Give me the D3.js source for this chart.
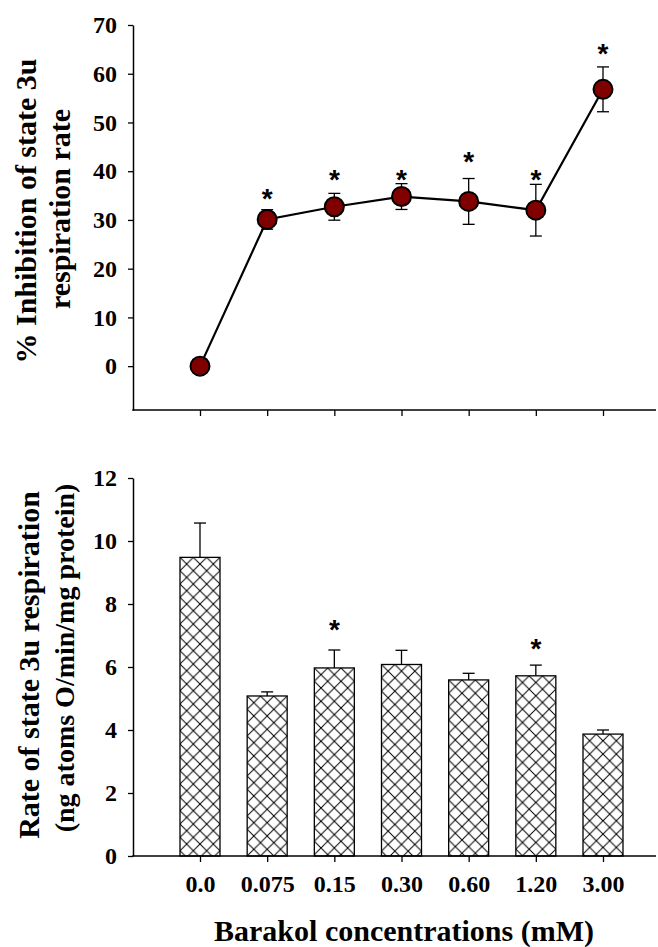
<!DOCTYPE html>
<html>
<head>
<meta charset="utf-8">
<script src="https://cdn.jsdelivr.net/npm/d3@7/dist/d3.min.js"></script>
<style>
  html, body { margin: 0; padding: 0; background: #ffffff; }
  svg { display: block; }
  .serif { font-family: "Liberation Serif", "Times New Roman", serif; font-weight: bold; fill: #000; }
</style>
</head>
<body>
<script>
// Barakol concentrations (mM)
const categories = ["0.0", "0.075", "0.15", "0.30", "0.60", "1.20", "3.00"];

// % inhibition of state 3u respiration rate (mean, SEM)
const inhibition    = [0, 30.1, 32.7, 34.8, 33.8, 32.0, 56.8];
const inhibitionErr = [0, 2.0, 2.75, 2.65, 4.7, 5.3, 4.6];
// significance marks (value level where the * is centred)
const inhibitionStar = [null, 35.7, 39.6, 39.6, 43.3, 39.6, 65.5];

// rate of state 3u respiration (ng atoms O/min/mg protein)
const rate    = [9.48, 5.08, 5.97, 6.08, 5.59, 5.72, 3.87];
const rateErr = [1.09, 0.13, 0.57, 0.45, 0.21, 0.34, 0.13];
const rateStar = [null, null, 7.4, null, null, 6.8, null];

const inhibitionTicks = [0, 10, 20, 30, 40, 50, 60, 70];
const rateTicks = [0, 2, 4, 6, 8, 10, 12];

const W = 658, H = 947;
const svg = d3.select("body").append("svg").attr("width", W).attr("height", H);

const axisLeftX = 133, axisRightX = 656;
const x = d3.scalePoint().domain(categories).range([200, 603]);
const yTop = d3.scaleLinear().domain([-9, 70]).range([410, 25]);
const yBot = d3.scaleLinear().domain([0, 12]).range([856, 478]);

const tickFont = 24, titleFont = 30, starFont = 28;

function styleAxis(g) {
  g.selectAll("path.domain").attr("stroke", "#000").attr("stroke-width", 1.5);
  g.selectAll(".tick line").attr("stroke", "#000").attr("stroke-width", 1.3);
  g.selectAll(".tick text")
    .attr("class", "serif")
    .style("font-size", tickFont + "px")
    .attr("fill", "#000");
}

function star(g, cx, cy) {
  // centre the asterisk glyph on (cx, cy)
  g.append("text")
    .attr("x", cx)
    .attr("y", cy + 0.58 * starFont)
    .attr("text-anchor", "middle")
    .style("font-family", "'Liberation Sans', Arial, sans-serif")
    .style("font-weight", "bold")
    .style("font-size", starFont + "px")
    .text("*");
}

// rotated two-line axis title; each line: [text, centre y, baseline x, font size]
function yTitle(lines) {
  lines.forEach(([t, cy, bx, fs]) => {
    svg.append("text")
      .attr("class", "serif")
      .attr("transform", "rotate(-90)")
      .attr("x", -cy)
      .attr("y", bx)
      .attr("text-anchor", "middle")
      .style("font-size", fs + "px")
      .text(t);
  });
}

/* ---------- upper panel: line with markers ---------- */
const upper = svg.append("g");

upper.append("g")
  .attr("transform", `translate(${axisLeftX},0)`)
  .call(d3.axisLeft(yTop).tickValues(inhibitionTicks).tickSize(5).tickPadding(11).tickSizeOuter(0))
  .call(styleAxis);

upper.append("line")
  .attr("x1", axisLeftX - 0.75).attr("x2", axisRightX)
  .attr("y1", yTop(-9)).attr("y2", yTop(-9))
  .attr("stroke", "#000").attr("stroke-width", 1.5);

upper.append("g")
  .attr("transform", `translate(0,${yTop(-9)})`)
  .call(d3.axisBottom(x).tickSize(6).tickFormat(""))
  .call(g => g.select("path.domain").remove())
  .call(styleAxis);

const upperData = categories.map((c, i) => ({ c, v: inhibition[i], e: inhibitionErr[i], s: inhibitionStar[i] }));

// error bars
const capW = 6;
upperData.filter(d => d.e > 0).forEach(d => {
  const cx = x(d.c);
  const g = upper.append("g").attr("stroke", "#000").attr("stroke-width", 1.3);
  g.append("line").attr("x1", cx).attr("x2", cx).attr("y1", yTop(d.v + d.e)).attr("y2", yTop(d.v - d.e));
  g.append("line").attr("x1", cx - capW).attr("x2", cx + capW).attr("y1", yTop(d.v + d.e)).attr("y2", yTop(d.v + d.e));
  g.append("line").attr("x1", cx - capW).attr("x2", cx + capW).attr("y1", yTop(d.v - d.e)).attr("y2", yTop(d.v - d.e));
});

upper.append("path")
  .datum(upperData)
  .attr("fill", "none")
  .attr("stroke", "#000")
  .attr("stroke-width", 2.2)
  .attr("d", d3.line().x(d => x(d.c)).y(d => yTop(d.v)));

upper.selectAll("circle.pt")
  .data(upperData)
  .join("circle")
  .attr("class", "pt")
  .attr("cx", d => x(d.c))
  .attr("cy", d => yTop(d.v))
  .attr("r", 9.5)
  .attr("fill", "#800000")
  .attr("stroke", "#000")
  .attr("stroke-width", 2);

upperData.filter(d => d.s !== null).forEach(d => star(upper, x(d.c), yTop(d.s)));

yTitle([
  ["% Inhibition of state 3u", 211, 36, titleFont],
  ["respiration rate", 209, 70, titleFont]
]);

/* ---------- lower panel: hatched bars ---------- */
const lower = svg.append("g");
const barW = 40;
const period = barW / 3;
const defs = svg.append("defs");

const lowerData = categories.map((c, i) => ({ c, i, v: rate[i], e: rateErr[i], s: rateStar[i] }));

lowerData.forEach(d => {
  const p = defs.append("pattern")
    .attr("id", "hatch" + d.i)
    .attr("patternUnits", "userSpaceOnUse")
    .attr("x", x(d.c) - barW / 2)
    .attr("y", yBot(d.v))
    .attr("width", period)
    .attr("height", period);
  p.append("rect").attr("width", period).attr("height", period).attr("fill", "#ffffff");
  p.append("path")
    .attr("d", `M${-1},${-1}L${period + 1},${period + 1}M${period + 1},${-1}L${-1},${period + 1}`)
    .attr("stroke", "#000")
    .attr("stroke-width", 1);
});

// error bars (upper only)
lowerData.forEach(d => {
  const cx = x(d.c);
  const g = lower.append("g").attr("stroke", "#000").attr("stroke-width", 1.3);
  g.append("line").attr("x1", cx).attr("x2", cx).attr("y1", yBot(d.v)).attr("y2", yBot(d.v + d.e));
  g.append("line").attr("x1", cx - capW).attr("x2", cx + capW).attr("y1", yBot(d.v + d.e)).attr("y2", yBot(d.v + d.e));
});

lower.selectAll("rect.bar")
  .data(lowerData)
  .join("rect")
  .attr("class", "bar")
  .attr("x", d => x(d.c) - barW / 2)
  .attr("y", d => yBot(d.v))
  .attr("width", barW)
  .attr("height", d => yBot(0) - yBot(d.v))
  .attr("fill", d => `url(#hatch${d.i})`)
  .attr("stroke", "#000")
  .attr("stroke-width", 1.3);

lower.append("g")
  .attr("transform", `translate(${axisLeftX},0)`)
  .call(d3.axisLeft(yBot).tickValues(rateTicks).tickFormat(d3.format("d")).tickSize(5).tickPadding(11).tickSizeOuter(0))
  .call(styleAxis);

lower.append("line")
  .attr("x1", axisLeftX - 0.75).attr("x2", axisRightX)
  .attr("y1", yBot(0)).attr("y2", yBot(0))
  .attr("stroke", "#000").attr("stroke-width", 1.5);

lower.append("g")
  .attr("transform", `translate(0,${yBot(0)})`)
  .call(d3.axisBottom(x).tickSize(6).tickPadding(13))
  .call(g => g.select("path.domain").remove())
  .call(styleAxis);

lowerData.filter(d => d.s !== null).forEach(d => star(lower, x(d.c), yBot(d.s)));

yTitle([
  ["Rate of state 3u respiration", 665, 39, titleFont],
  ["(ng atoms O/min/mg protein)", 658, 74, 28]
]);

svg.append("text")
  .attr("class", "serif")
  .attr("x", 404)
  .attr("y", 941)
  .attr("text-anchor", "middle")
  .style("font-size", titleFont + "px")
  .text("Barakol concentrations (mM)");
</script>
</body>
</html>
